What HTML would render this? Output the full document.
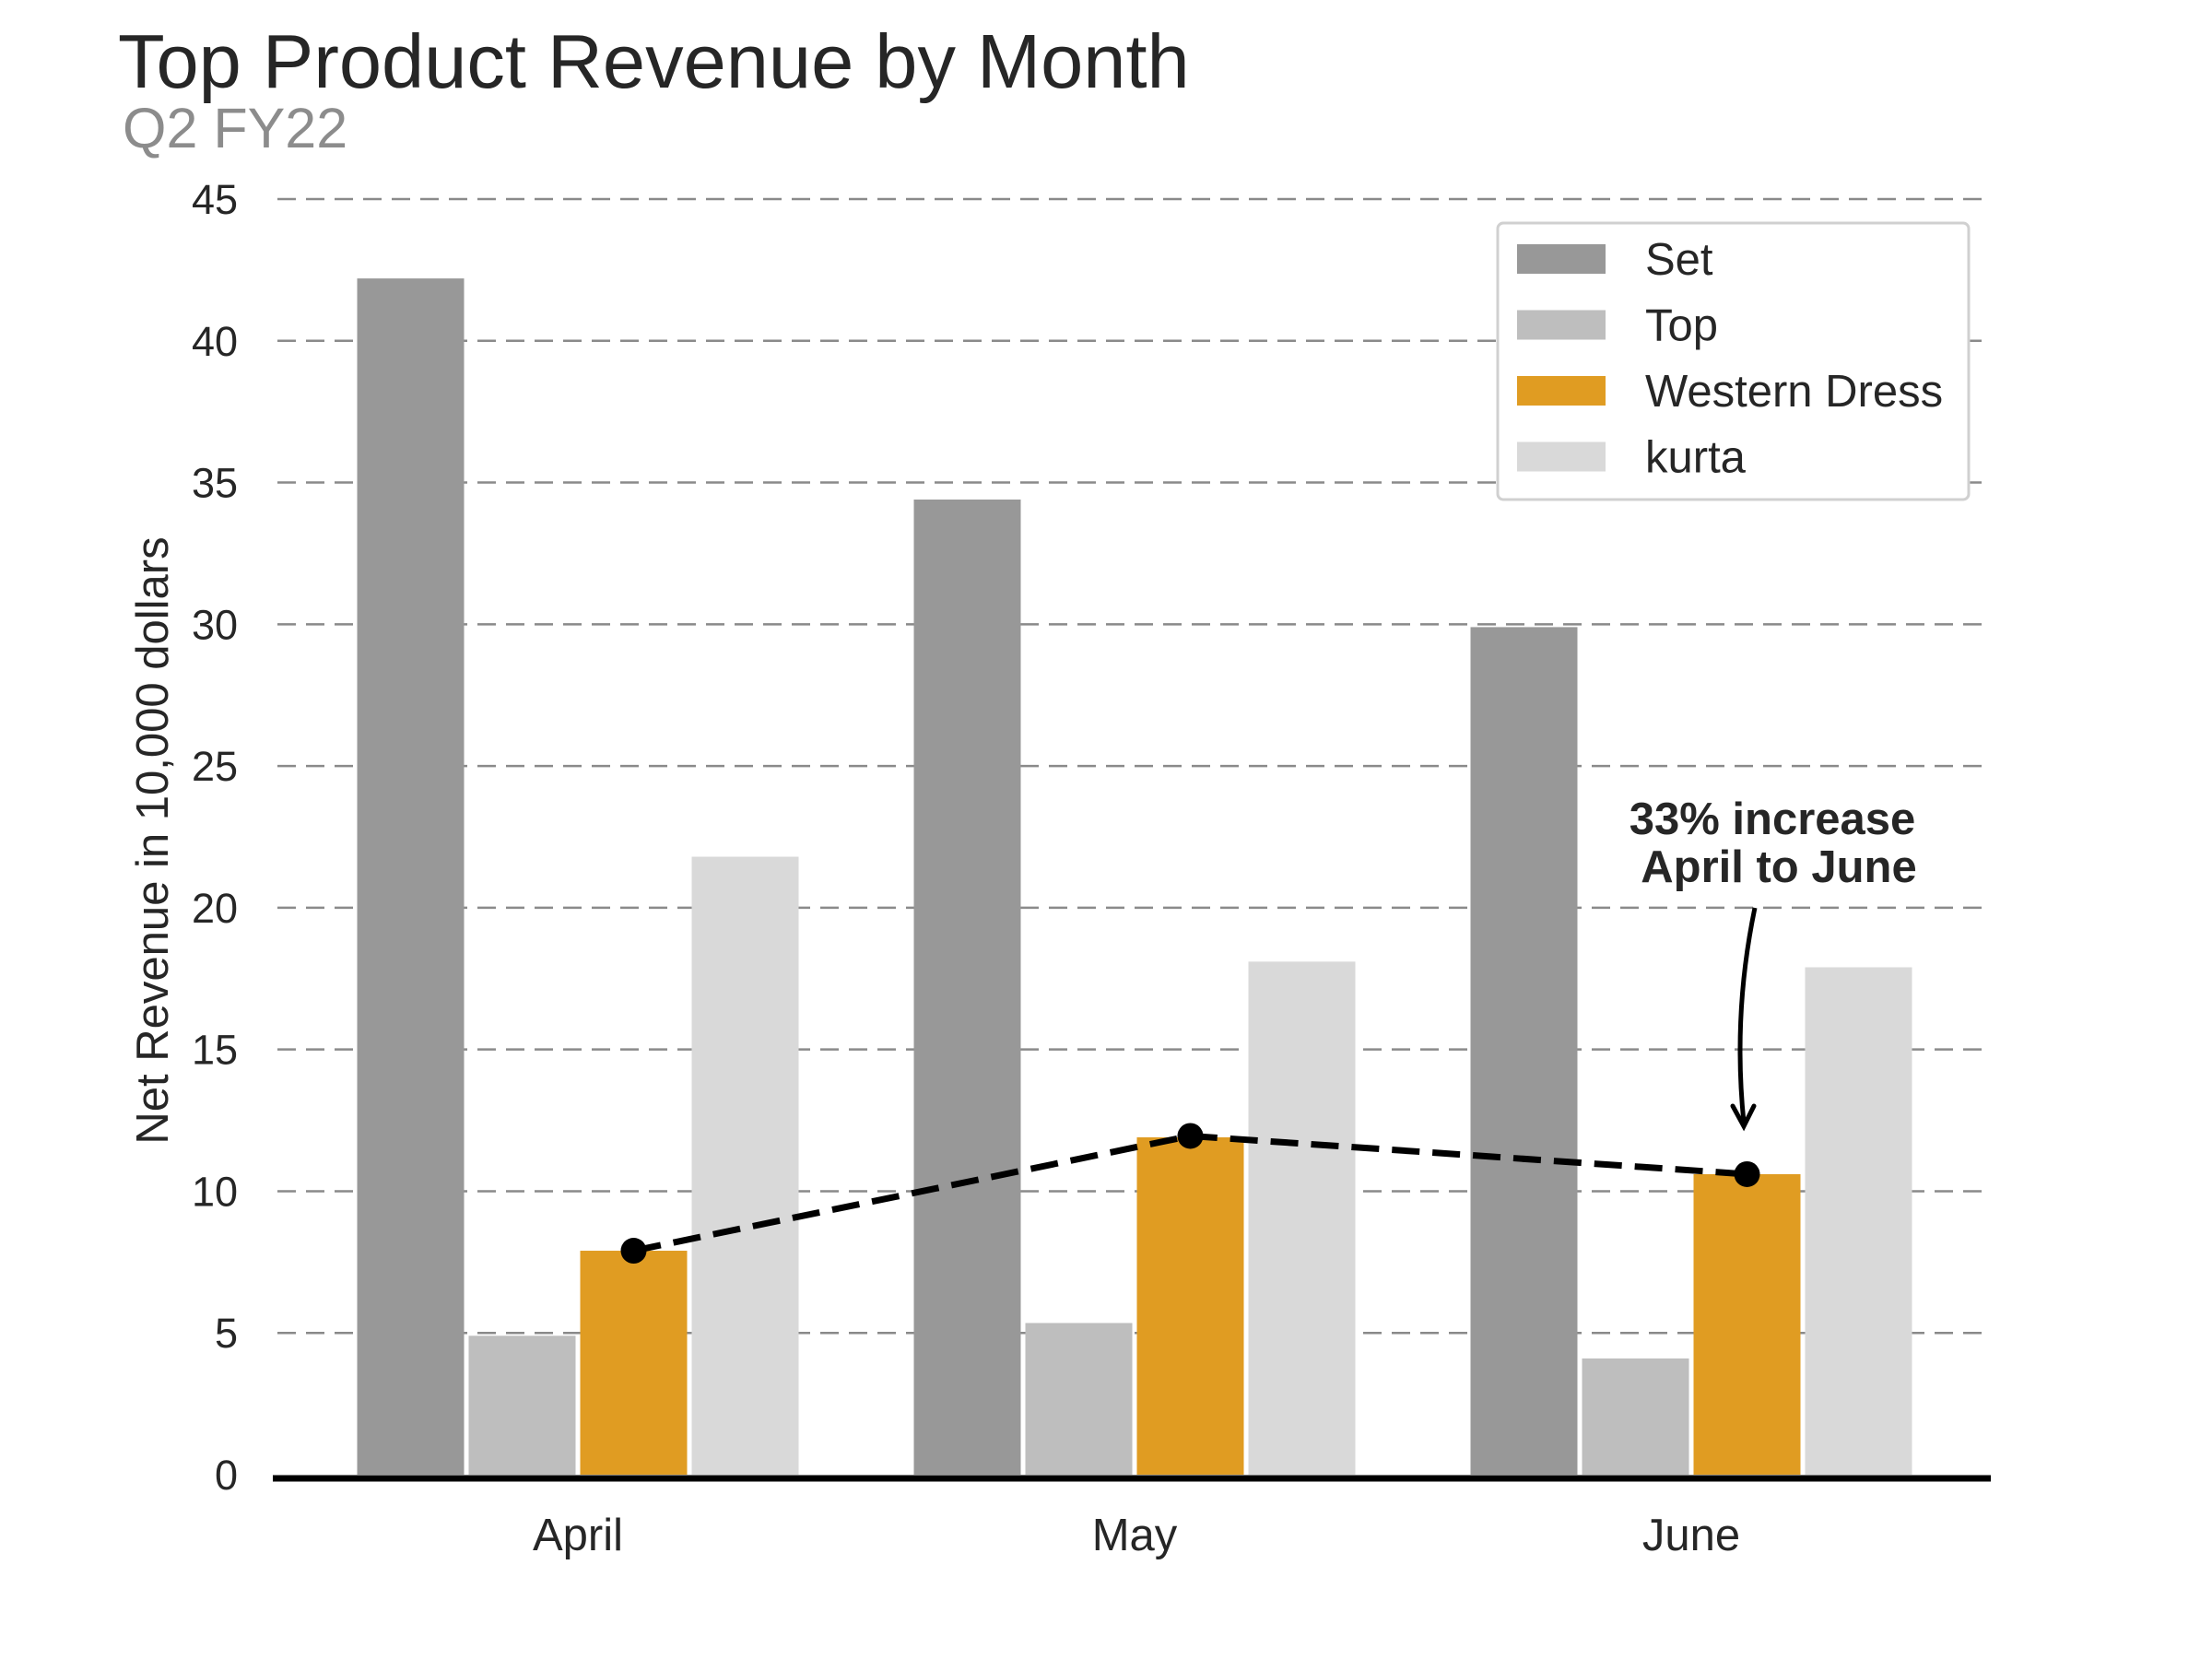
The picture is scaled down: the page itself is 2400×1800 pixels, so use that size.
<!DOCTYPE html>
<html><head><meta charset="utf-8"><style>
html,body{margin:0;padding:0;background:#fff;}
svg{display:block;font-family:"Liberation Sans",Arial,sans-serif;}
</style></head><body>
<svg id="chart" width="2400" height="1800" viewBox="0 0 2400 1800">
<text x="128" y="95" font-size="83" fill="#262626">Top Product Revenue by Month</text>
<text x="133" y="160" font-size="61" fill="#8c8c8c">Q2 FY22</text>
<g id="grid"></g>
<g id="yticks"></g>
<text transform="translate(182,912) rotate(-90)" text-anchor="middle" font-size="49" fill="#262626">Net Revenue in 10,000 dollars</text>
<g id="bars"></g>
<line x1="296" x2="2160" y1="1604" y2="1604" stroke="#000" stroke-width="7"/>
<g id="xticks"></g>
<g id="trend"></g>
<g>
<text x="1923" y="905" text-anchor="middle" font-size="49" font-weight="bold" fill="#262626">33% increase</text>
<text x="1930" y="957" text-anchor="middle" font-size="49" font-weight="bold" fill="#262626">April to June</text>
<path d="M1904,985 Q1880,1100 1892,1218" fill="none" stroke="#000" stroke-width="5"/>
<path d="M1880,1200 L1892,1222 L1903,1200" fill="none" stroke="#000" stroke-width="5" stroke-linecap="round"/>
</g>
<g id="legend">
<rect x="1634" y="242" width="511" height="300" rx="6" fill="#fff" stroke="#d0d0d0" stroke-width="3"/>
</g>
</svg>
<script>
const categories = ["April","May","June"];
const seriesNames = ["Set","Top","Western Dress","kurta"];
const setValues = [42.2, 34.4, 29.9];
const topValues = [4.9, 5.35, 4.1];
const westernValues = [7.9, 11.9, 10.6];
const kurtaValues = [21.8, 18.1, 17.9];
const trendValues = [7.9, 11.95, 10.6];
const yTicks = [0,5,10,15,20,25,30,35,40,45];

const colors = ["#989898","#bebebe","#e09c22","#d9d9d9"];
const series = [setValues, topValues, westernValues, kurtaValues];
const NS = "http://www.w3.org/2000/svg";
const y0 = 1600, yPer = (1600 - 216) / 45;
const yScale = v => y0 - v * yPer;
const groupCenter = i => 627 + i * 604;
const barW = 116, barStep = 121;
const barX = (i, s) => groupCenter(i) + (s - 1.5) * barStep - barW / 2;
function mk(tag, attrs, parent){ const e = document.createElementNS(NS, tag); for (const k in attrs) e.setAttribute(k, attrs[k]); parent.appendChild(e); return e; }

const grid = document.getElementById('grid'), yt = document.getElementById('yticks');
yTicks.forEach(t => {
  if (t > 0) {
    const l = mk('line', {x1:301, x2:2160, y1:yScale(t), y2:yScale(t), stroke:'#8a8a8a', 'stroke-width':2.5, 'stroke-dasharray':'20 11'}, grid);
    
    
  }
  const tx = mk('text', {x:258, y:yScale(t) + 16, 'text-anchor':'end', 'font-size':45, fill:'#262626'}, yt);
  tx.textContent = t;
  
  
});

const bars = document.getElementById('bars');
categories.forEach((c, i) => {
  series.forEach((vals, s) => {
    const r = mk('rect', {x:barX(i, s), y:yScale(vals[i]), width:barW, height:y0 - yScale(vals[i]), fill:colors[s]}, bars);
    
    
  });
});

const xt = document.getElementById('xticks');
categories.forEach((c, i) => {
  const t = mk('text', {x:groupCenter(i), y:1682, 'text-anchor':'middle', 'font-size':49, fill:'#262626'}, xt);
  t.textContent = c;
  
  
});

const trend = document.getElementById('trend');
const pts = trendValues.map((v, i) => [barX(i, 2) + barW / 2, yScale(v)]);
const pl = mk('polyline', {points:pts.map(p => p.join(',')).join(' '), fill:'none', stroke:'#000', 'stroke-width':7, 'stroke-dasharray':'30 14'}, trend);


pts.forEach((p, i) => {
  const c = mk('circle', {cx:p[0], cy:p[1], r:14, fill:'#000'}, trend);
  
  
});

const lg = document.getElementById('legend');
lg.firstElementChild.setAttribute('x', 1625);
seriesNames.forEach((n, s) => {
  const yy = 281 + s * 71.5;
  const r = mk('rect', {x:1646, y:yy - 16, width:96, height:32, fill:colors[s]}, lg);
  
  
  const t = mk('text', {x:1785, y:yy + 17, 'font-size':49, fill:'#262626'}, lg);
  t.textContent = n;
  
  
});
</script>
</body></html>
